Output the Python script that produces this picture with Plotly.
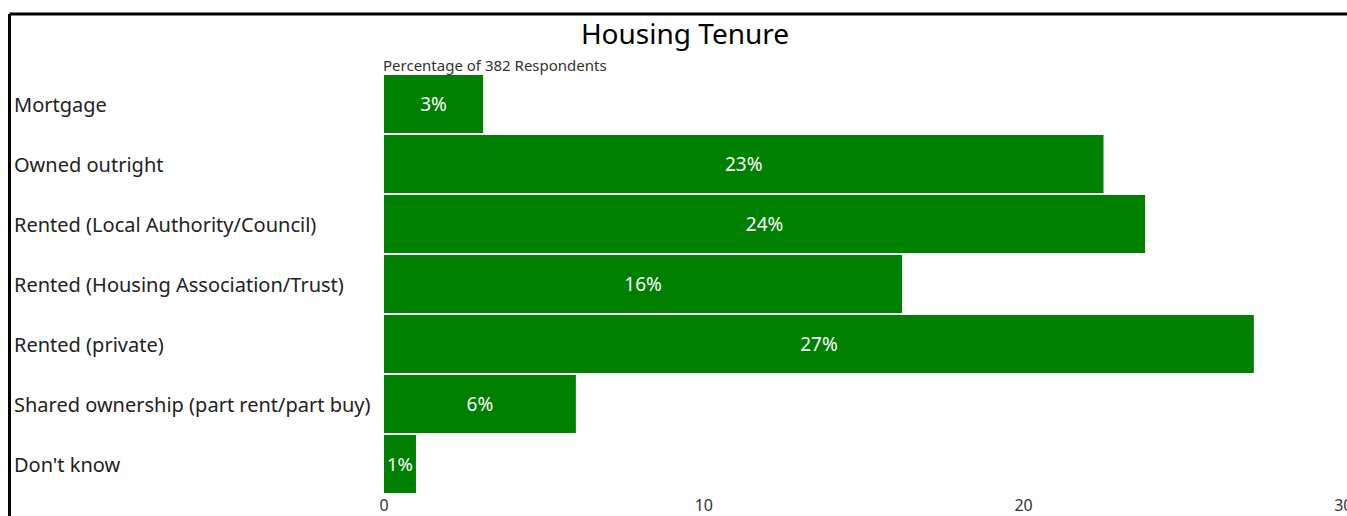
import plotly.graph_objects as go

# Housing tenure survey results (share of 382 respondents, %)
categories = [
    "Mortgage",
    "Owned outright",
    "Rented (Local Authority/Council)",
    "Rented (Housing Association/Trust)",
    "Rented (private)",
    "Shared ownership (part rent/part buy)",
    "Don't know",
]
percentages = [3.1, 22.5, 23.8, 16.2, 27.2, 6.0, 1.0]
x_ticks = [0, 10, 20, 30]
respondents = 382

FONT = "Noto Sans"
W, H = 1347, 516
M_L, M_R, M_T, M_B = 384, 3, 74, 22
plot_w = W - M_L - M_R
plot_h = H - M_T - M_B


def px_to_paper_x(px):
    return (px - M_L) / plot_w


def px_to_paper_y(py):
    return (H - M_B - py) / plot_h


fig = go.Figure(
    go.Bar(
        x=percentages,
        y=categories,
        orientation="h",
        marker=dict(color="#008000", line=dict(width=0)),
        texttemplate="%{x:.0f}%",
        textposition="inside",
        insidetextanchor="middle",
        textangle=0,
        textfont=dict(family=FONT, size=19, color="white"),
        hoverinfo="skip",
        cliponaxis=False,
    )
)

# Category labels, left aligned at the chart's left edge
annotations = [
    dict(
        text=cat,
        x=px_to_paper_x(12),
        xref="paper",
        xanchor="left",
        y=cat,
        yref="y",
        yanchor="middle",
        showarrow=False,
        font=dict(family=FONT, size=20, color="#222222"),
    )
    for cat in categories
]

annotations.append(
    dict(
        text=f"Percentage of {respondents} Respondents",
        x=px_to_paper_x(381),
        xref="paper",
        xanchor="left",
        y=px_to_paper_y(65),
        yref="paper",
        yanchor="middle",
        showarrow=False,
        font=dict(family=FONT, size=15, color="#333333"),
    )
)

# Frame lines along the top and left
shapes = [
    dict(
        type="line", xref="paper", yref="paper",
        x0=px_to_paper_x(9.5), x1=px_to_paper_x(W + 20),
        y0=px_to_paper_y(14), y1=px_to_paper_y(14),
        line=dict(color="black", width=3),
    ),
    dict(
        type="line", xref="paper", yref="paper",
        x0=px_to_paper_x(9.5), x1=px_to_paper_x(9.5),
        y0=px_to_paper_y(14), y1=px_to_paper_y(H + 20),
        line=dict(color="black", width=3),
    ),
]

fig.update_layout(
    width=W,
    height=H,
    margin=dict(l=M_L, r=M_R, t=M_T, b=M_B),
    paper_bgcolor="white",
    plot_bgcolor="white",
    showlegend=False,
    bargap=2 / 60,
    title=dict(
        text="Housing Tenure",
        x=685 / W,
        xanchor="center",
        xref="container",
        y=1 - 34 / H,
        yanchor="middle",
        yref="container",
        font=dict(family=FONT, size=28, color="black"),
    ),
    xaxis=dict(
        range=[0, 30.02],
        tickvals=x_ticks,
        showgrid=False,
        zeroline=False,
        showline=False,
        ticks="",
        automargin=False,
        ticklabeloverflow="allow",
        tickfont=dict(family=FONT, size=16, color="#333333"),
        fixedrange=True,
    ),
    yaxis=dict(
        autorange="reversed",
        showticklabels=False,
        showgrid=False,
        zeroline=False,
        showline=False,
        ticks="",
        fixedrange=True,
    ),
    annotations=annotations,
    shapes=shapes,
)

fig.write_html("out.html")
